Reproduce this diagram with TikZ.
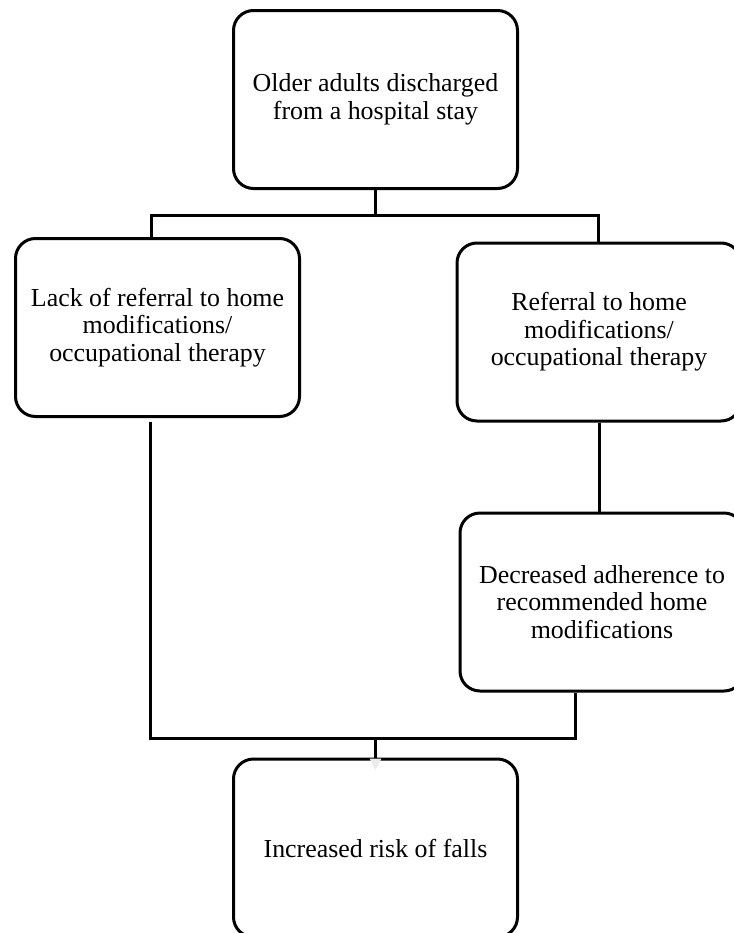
\documentclass[tikz,border=0pt]{standalone}
\usepackage{fontspec}
\setmainfont{Liberation Serif}
\usetikzlibrary{arrows.meta}

\tikzset{
  box/.style={draw,line width=3bp,rounded corners=20bp,minimum width=284bp,minimum height=178bp,
    inner sep=0pt,align=center,font=\fontsize{26}{27.5}\selectfont},
  link/.style={black,line width=3bp},
}

\begin{document}
\begin{tikzpicture}[>=latex,line join=miter]
\useasboundingbox (0bp,0bp) rectangle (734bp,-933bp);
%%
\node (older) at (375.5bp,-99.5bp) [box] {Older adults discharged\\from a hospital stay};
  \node (lack) at (157.5bp,-327.5bp) [box] {Lack of referral to home\\modifications/\\occupational therapy};
  \node (ref) at (599bp,-332bp) [box] {Referral to home\\modifications/\\occupational therapy};
  \node (adh) at (602bp,-602bp) [box] {Decreased adherence to\\recommended home\\modifications};
  \node (falls) at (375.5bp,-848bp) [box] {Increased risk of falls};
  \coordinate (split) at (375.5bp,-215bp);
  \coordinate (join) at (375.5bp,-738bp);
  \draw [link] (older.south) -- (split);
  \draw [link] ([xshift=-6bp]lack.north) |- (split) -| ([xshift=-1bp]ref.north);
  \draw [link] (ref.south) -- (ref.south |- adh.north);
  \draw [link,shorten <=4bp] ([xshift=-7bp]lack.south) |- (join) -| ([xshift=-27bp]adh.south);
  \draw [link,-{Triangle[color=gray!15,length=12bp,width=11bp]}] (join) -- ([yshift=-13bp]falls.north);
%
\end{tikzpicture}
\end{document}
